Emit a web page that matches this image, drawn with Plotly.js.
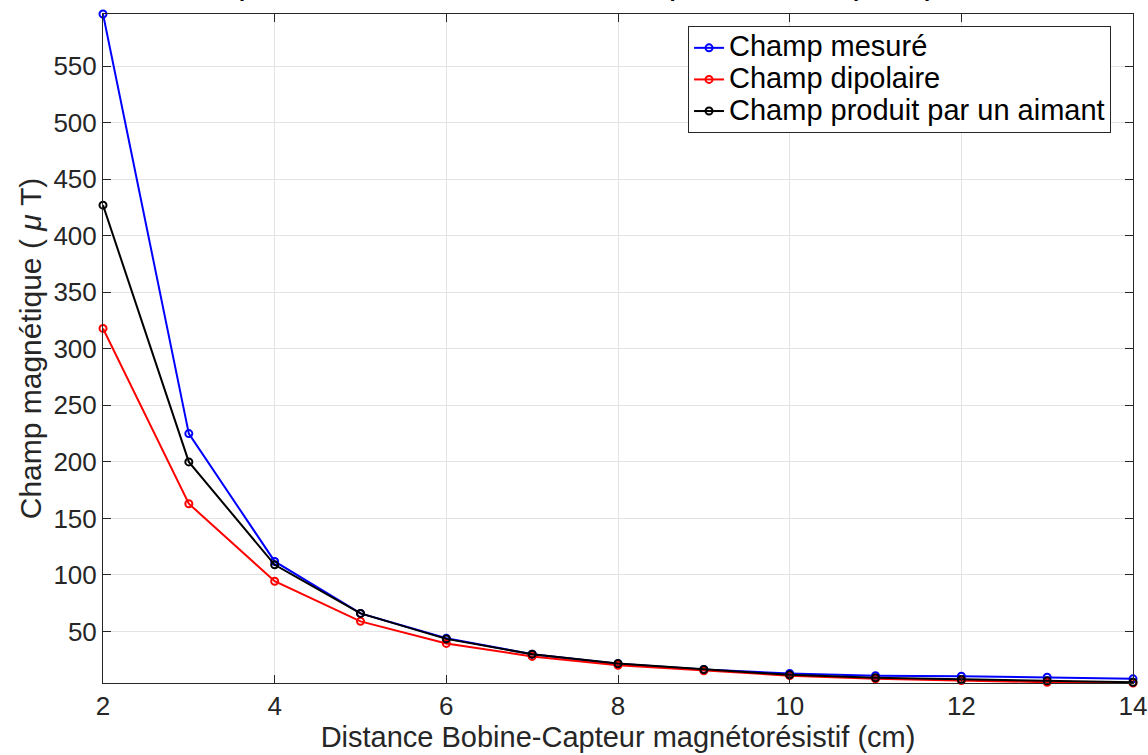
<!DOCTYPE html>
<html>
<head>
<meta charset="utf-8">
<script src="https://cdn.plot.ly/plotly-3.0.1.min.js"></script>
<style>html,body{margin:0;padding:0;background:#fff;}#chart{width:1148px;height:755px;}</style>
</head>
<body>
<div id="chart"></div>
<script>
const distances = [2, 3, 4, 5, 6, 7, 8, 9, 10, 11, 12, 13, 14];
const champMesure = [596, 225, 112, 66, 44, 30, 21.5, 16.4, 13, 11, 10.5, 9.6, 8.2];
const champDipolaire = [318, 163, 94.5, 59, 39.5, 28, 20.2, 15.3, 11, 8.2, 6.7, 5.2, 4.5];
const champAimant = [427, 200, 109, 66, 43.5, 30, 21.7, 16.4, 11.7, 9.1, 7.6, 6.4, 5.2];
const yTicks = [50, 100, 150, 200, 250, 300, 350, 400, 450, 500, 550];
const xTicks = [2, 4, 6, 8, 10, 12, 14];
const seriesNames = ['Champ mesuré', 'Champ dipolaire', 'Champ produit par un aimant'];
const titleText = "Comparaison de l'intensité mesurée, du champ calculé et champ créé par l'aimant";

function tr(y, name, color) {
  return {
    x: distances, y: y, name: '<span style="font-size:29px">' + name + '</span>',
    type: 'scatter', mode: 'lines+markers',
    line: {color: color, width: 2},
    marker: {symbol: 'circle-open', size: 7, color: color, line: {width: 2, color: color}},
    cliponaxis: false
  };
}
const data = [
  tr(champMesure, seriesNames[0], '#0000ff'),
  tr(champDipolaire, seriesNames[1], '#ff0000'),
  tr(champAimant, seriesNames[2], '#000000')
];
const font = 'Liberation Sans, Arial, Helvetica, sans-serif';
const layout = {
  width: 1148, height: 755,
  margin: {l: 103, r: 15, t: 14, b: 72},
  paper_bgcolor: '#fff', plot_bgcolor: '#fff',
  font: {family: font, color: '#262626'},
  showlegend: true,
  legend: {
    x: 0.568, y: 0.982, xanchor: 'left', yanchor: 'top',
    bgcolor: '#fff', bordercolor: '#262626', borderwidth: 1,
    font: {size: 22, color: '#000', family: font},
    tracegroupgap: 0, itemwidth: 30
  },
  xaxis: {
    range: [2, 14], tickvals: xTicks, ticktext: xTicks.map(String),
    showgrid: true, gridcolor: '#e3e3e3', gridwidth: 1,
    showline: true, linecolor: '#262626', linewidth: 1, mirror: 'ticks',
    ticks: 'inside', ticklen: 8, tickcolor: '#262626',
    tickfont: {size: 26, color: '#262626'},
    zeroline: false,
    title: {text: 'Distance Bobine-Capteur magnétorésistif (cm)', font: {size: 29, color: '#262626'}, standoff: 0}
  },
  yaxis: {
    range: [4.5, 596], tickvals: yTicks, ticktext: yTicks.map(String),
    showgrid: true, gridcolor: '#e3e3e3', gridwidth: 1,
    showline: true, linecolor: '#262626', linewidth: 1, mirror: 'ticks',
    ticks: 'inside', ticklen: 8, tickcolor: '#262626',
    tickfont: {size: 26, color: '#262626'},
    zeroline: false,
    title: {text: 'Champ magnétique (<i> μ </i>T)', font: {size: 30, color: '#262626'}, standoff: 2}
  },
  annotations: [{
    text: '<b>' + titleText + '</b>',
    xref: 'paper', yref: 'paper', x: 0.5, y: 1.016, xanchor: 'center', yanchor: 'bottom',
    showarrow: false, font: {size: 22, color: '#000', family: font}
  }]
};
Plotly.newPlot('chart', data, layout, {displayModeBar: false, staticPlot: true});
</script>
</body>
</html>
